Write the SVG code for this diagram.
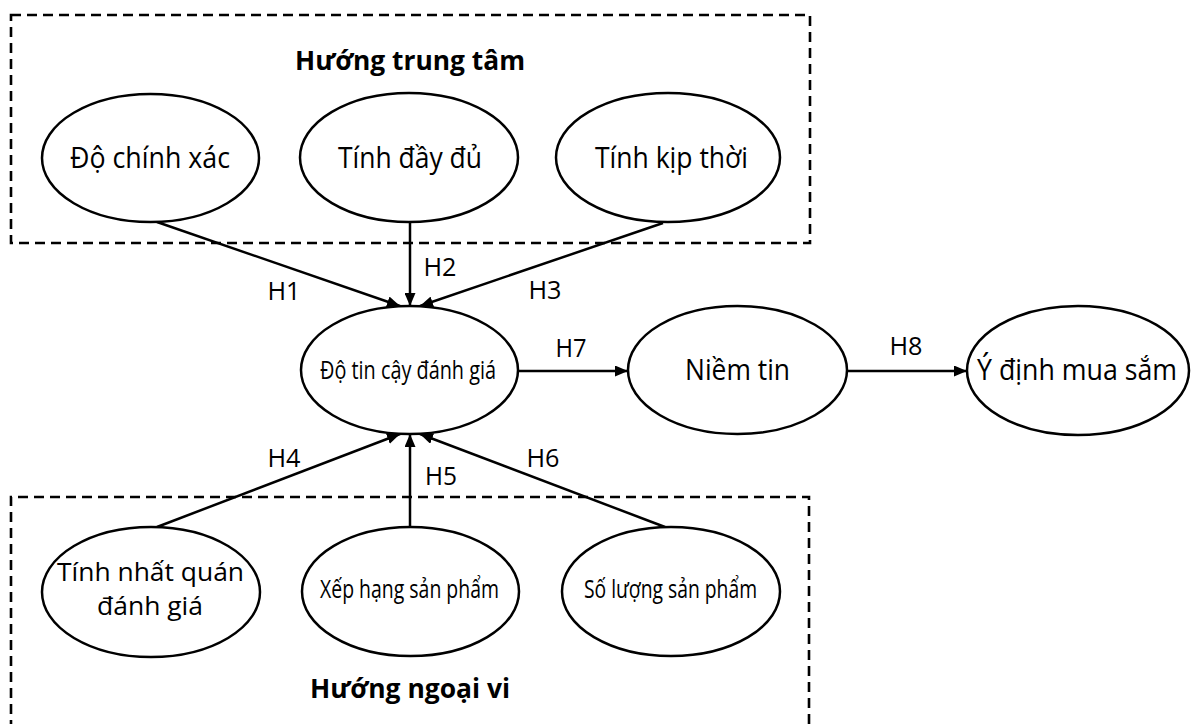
<svg xmlns="http://www.w3.org/2000/svg" width="1192" height="724" viewBox="0 0 1192 724">
<style>
.box{fill:none;stroke:#000;stroke-width:2.6;stroke-dasharray:10 6}
.node ellipse{fill:#fff;stroke:#000;stroke-width:2.5}
.t{font-family:"Open Sans","Noto Sans",sans-serif;font-size:28.5px;fill:#000;text-anchor:middle}
.c{font-size:25px}
.m{font-size:26px}
.h{font-family:"Open Sans","Noto Sans",sans-serif;font-size:25px;fill:#000;text-anchor:middle}
.b{font-family:"Open Sans","Noto Sans",sans-serif;font-size:26px;font-weight:bold;fill:#000;text-anchor:middle}
.con line{stroke:#000;stroke-width:2.5;marker-end:url(#ah)}
</style>
<defs>
<marker id="ah" viewBox="0 0 13 11" refX="13" refY="5.5" markerWidth="13" markerHeight="11" markerUnits="userSpaceOnUse" orient="auto">
<path d="M0,0 L13,5.5 L0,11 Z" fill="#000"/>
</marker>
</defs>
<rect width="1192" height="724" fill="#fff"/>
<g id="group-center">
<rect class="box" x="11" y="15" width="799" height="228"/>
<text class="b" x="410" y="70" textLength="230" lengthAdjust="spacingAndGlyphs">Hướng trung tâm</text>
</g>
<g id="group-peripheral">
<path class="box" d="M11,730 L11,497 L809,497 L809,730"/>
<text class="b" x="410" y="698" textLength="200" lengthAdjust="spacingAndGlyphs">Hướng ngoại vi</text>
</g>
<g id="connectors" class="con">
<line x1="157" y1="222" x2="400" y2="306"/>
<line x1="410" y1="222" x2="410" y2="306"/>
<line x1="663" y1="223" x2="420" y2="306"/>
<line x1="157" y1="527" x2="400" y2="434"/>
<line x1="410" y1="527" x2="410" y2="434"/>
<line x1="665" y1="527" x2="420" y2="434"/>
<line x1="518" y1="371" x2="628" y2="371"/>
<line x1="847" y1="371" x2="967" y2="371"/>
</g>
<g id="edge-labels">
<text class="h" x="284" y="300" textLength="33" lengthAdjust="spacingAndGlyphs">H1</text>
<text class="h" x="440" y="276" textLength="33" lengthAdjust="spacingAndGlyphs">H2</text>
<text class="h" x="545" y="299" textLength="33" lengthAdjust="spacingAndGlyphs">H3</text>
<text class="h" x="284" y="467" textLength="33" lengthAdjust="spacingAndGlyphs">H4</text>
<text class="h" x="441" y="485" textLength="32" lengthAdjust="spacingAndGlyphs">H5</text>
<text class="h" x="543" y="467" textLength="33" lengthAdjust="spacingAndGlyphs">H6</text>
<text class="h" x="571" y="357" textLength="31" lengthAdjust="spacingAndGlyphs">H7</text>
<text class="h" x="906" y="355" textLength="33" lengthAdjust="spacingAndGlyphs">H8</text>
</g>
<g id="n-accuracy" class="node">
<ellipse cx="150.5" cy="158" rx="108.5" ry="64"/>
<text class="t" x="150" y="168" textLength="160" lengthAdjust="spacingAndGlyphs">Độ chính xác</text>
</g>
<g id="n-completeness" class="node">
<ellipse cx="409" cy="157.5" rx="109" ry="64.5"/>
<text class="t" x="410" y="168" textLength="144" lengthAdjust="spacingAndGlyphs">Tính đầy đủ</text>
</g>
<g id="n-timeliness" class="node">
<ellipse cx="668" cy="157.5" rx="112" ry="64.5"/>
<text class="t" x="671.5" y="168" textLength="153" lengthAdjust="spacingAndGlyphs">Tính kịp thời</text>
</g>
<g id="n-credibility" class="node">
<ellipse cx="409.5" cy="370" rx="108.5" ry="64"/>
<text class="t c" x="408" y="379" textLength="176" lengthAdjust="spacingAndGlyphs">Độ tin cậy đánh giá</text>
</g>
<g id="n-trust" class="node">
<ellipse cx="737.5" cy="370" rx="109.5" ry="64"/>
<text class="t" x="737.5" y="380" textLength="105" lengthAdjust="spacingAndGlyphs">Niềm tin</text>
</g>
<g id="n-intention" class="node">
<ellipse cx="1078" cy="370.5" rx="111" ry="64.5"/>
<text class="t" x="1077" y="380" textLength="200" lengthAdjust="spacingAndGlyphs">Ý định mua sắm</text>
</g>
<g id="n-consistency" class="node">
<ellipse cx="151" cy="592" rx="109" ry="65"/>
<text class="t m" x="150.5" y="581" textLength="187" lengthAdjust="spacingAndGlyphs">Tính nhất quán</text>
<text class="t m" x="150" y="615" textLength="106" lengthAdjust="spacingAndGlyphs">đánh giá</text>
</g>
<g id="n-rating" class="node">
<ellipse cx="410.5" cy="591.5" rx="108.5" ry="64.5"/>
<text class="t c" x="409.5" y="598" textLength="179" lengthAdjust="spacingAndGlyphs">Xếp hạng sản phẩm</text>
</g>
<g id="n-quantity" class="node">
<ellipse cx="671" cy="591.5" rx="109" ry="64.5"/>
<text class="t c" x="670.5" y="598" textLength="173" lengthAdjust="spacingAndGlyphs">Số lượng sản phẩm</text>
</g>
</svg>
